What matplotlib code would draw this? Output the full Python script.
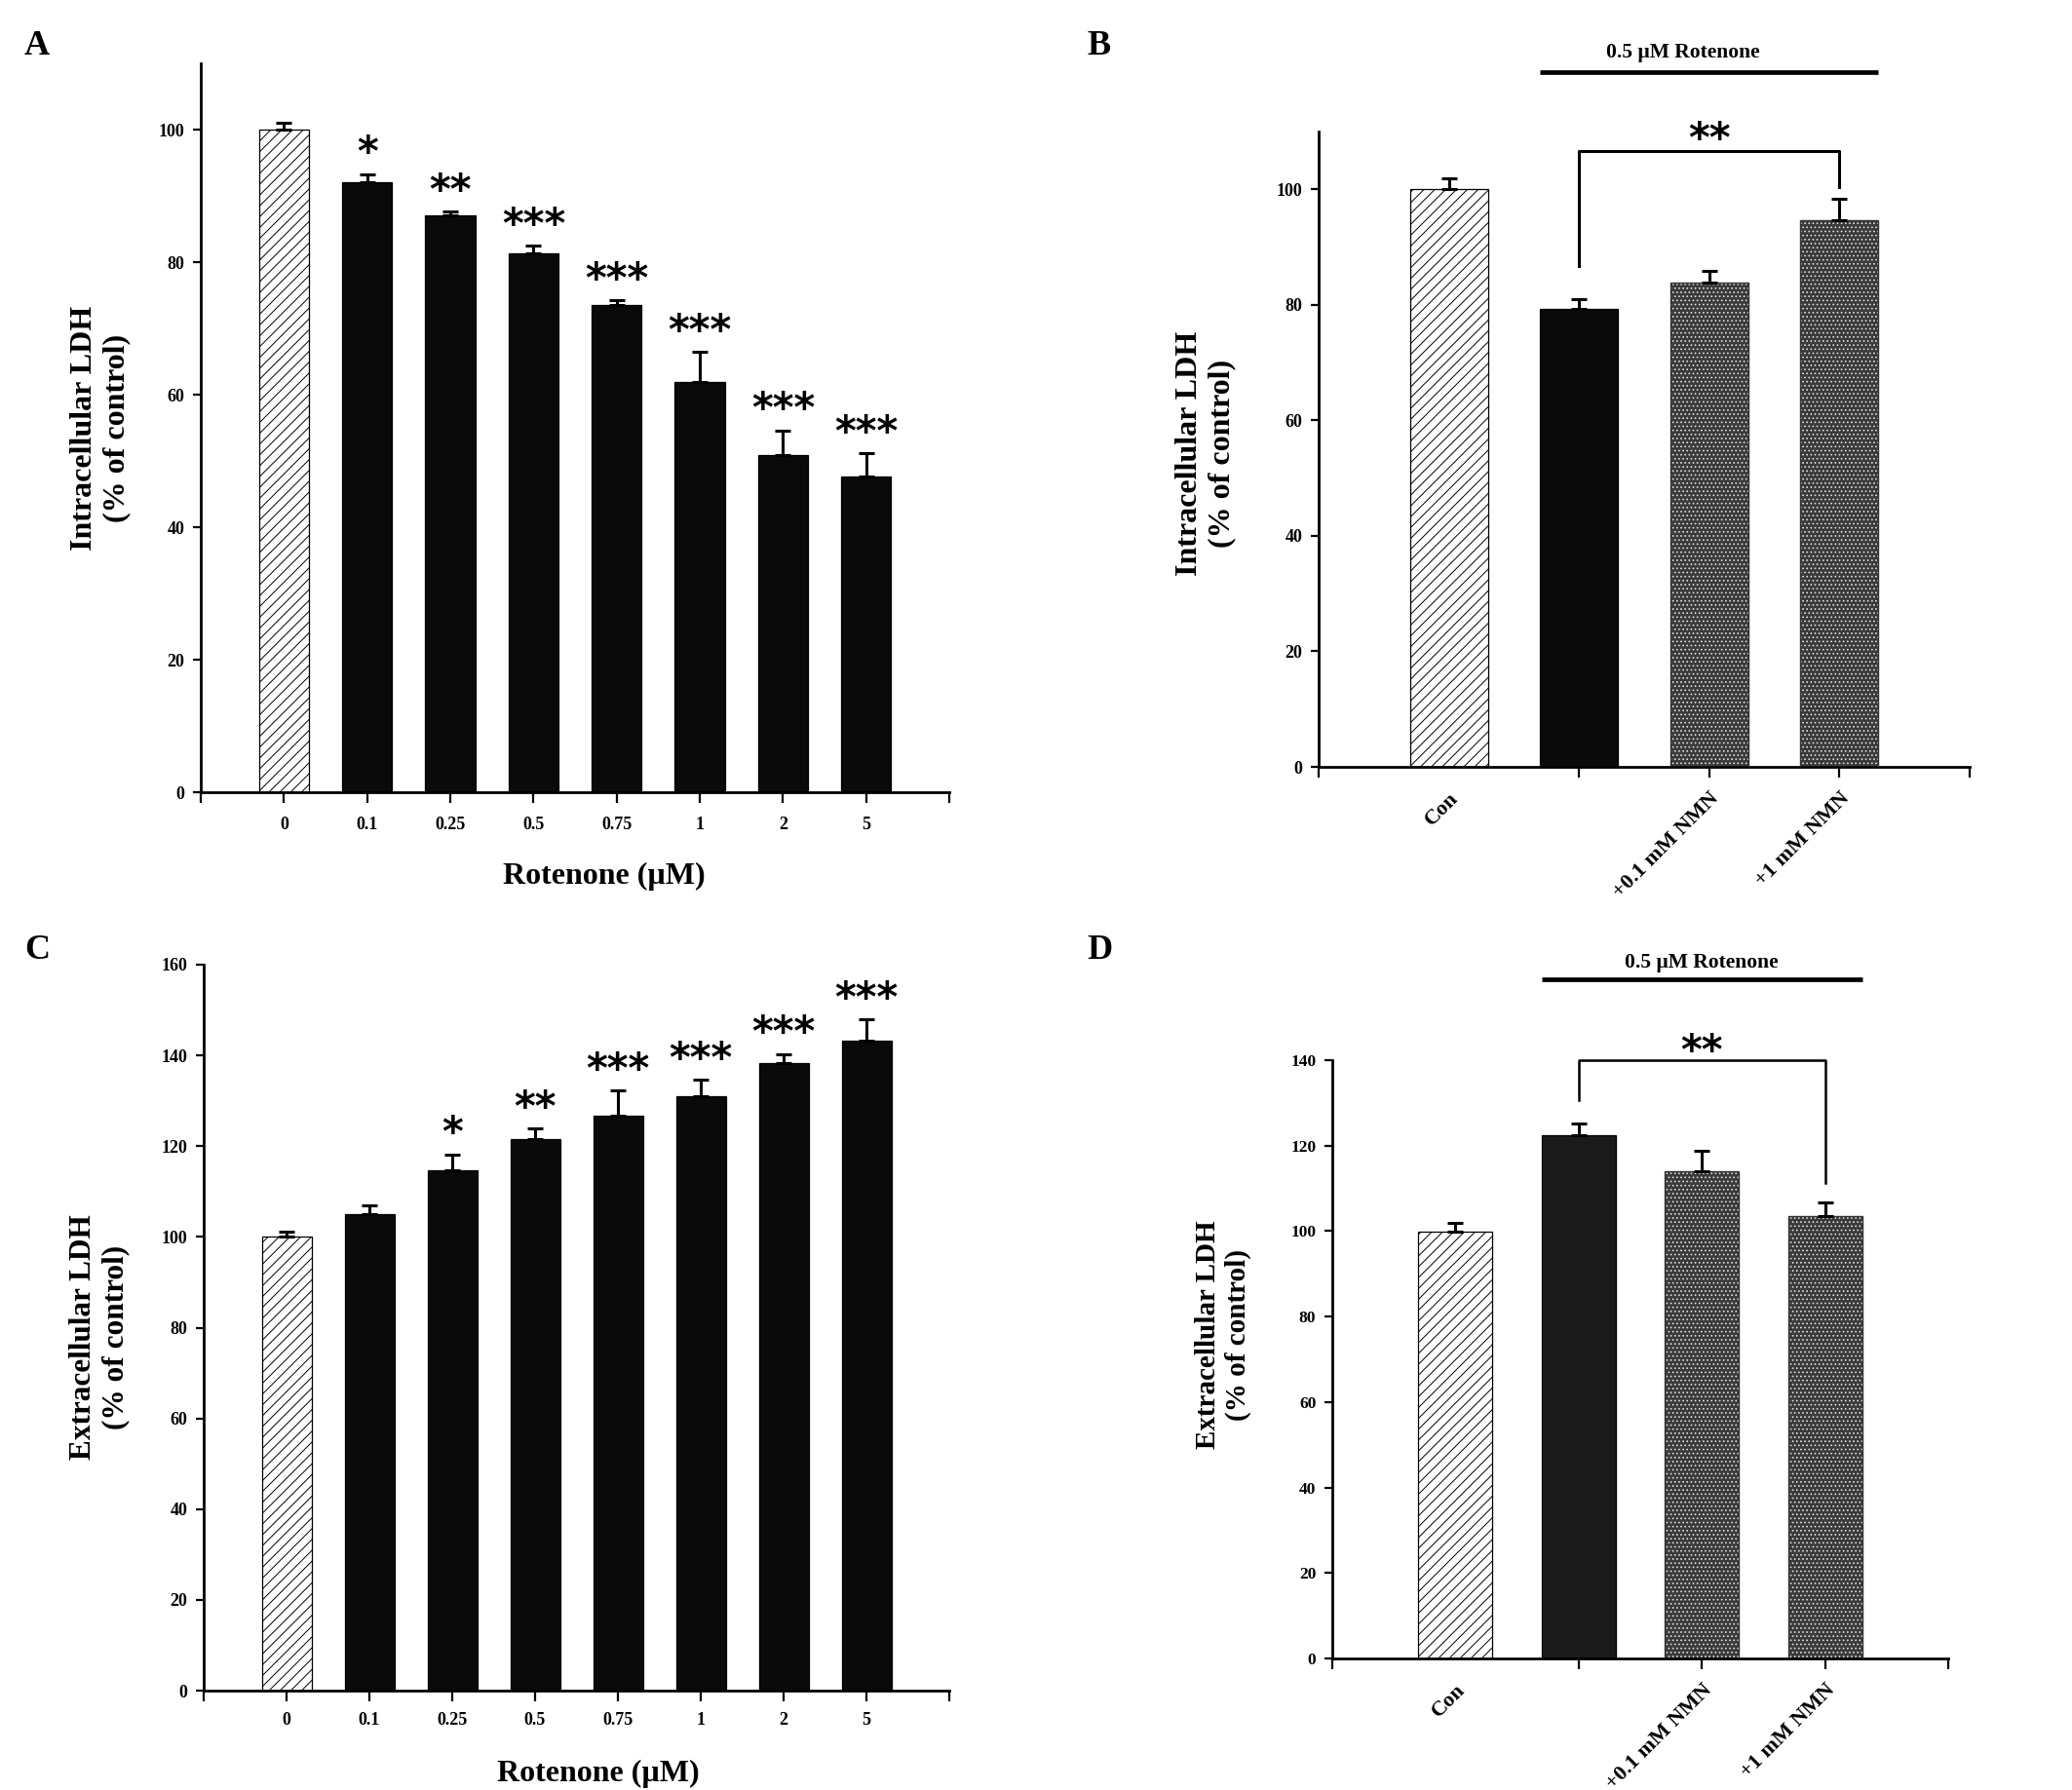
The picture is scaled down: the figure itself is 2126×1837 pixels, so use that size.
import matplotlib
matplotlib.use("Agg")
import matplotlib.pyplot as plt

plt.rcParams['font.family'] = ['Liberation Serif', 'DejaVu Serif']
plt.rcParams['hatch.linewidth'] = 0.7

# ---------------- data ----------------
dose_labels = ['0', '0.1', '0.25', '0.5', '0.75', '1', '2', '5']
A_vals = [100, 92.0, 87.0, 81.3, 73.5, 61.9, 50.9, 47.6]
A_err = [1.0, 1.3, 0.6, 1.2, 0.7, 4.5, 3.7, 3.6]
A_stars = ['', '*', '**', '***', '***', '***', '***', '***']

C_vals = [100, 105.0, 114.6, 121.5, 126.8, 131.0, 138.3, 143.3]
C_err = [1.2, 2.0, 3.6, 2.4, 5.4, 3.6, 2.0, 4.7]
C_stars = ['', '', '*', '**', '***', '***', '***', '***']

nmn_labels = ['Con', '', '+0.1 mM NMN', '+1 mM NMN']
B_vals = [100, 79.3, 83.9, 94.6]
B_err = [1.9, 1.6, 2.0, 3.7]
D_vals = [99.8, 122.5, 114.1, 103.5]
D_err = [2.2, 2.7, 4.6, 3.3]

W, H = 2126, 1837
fig = plt.figure(figsize=(W / 100, H / 100), dpi=100)

STAR_FONT = dict(fontsize=30, family='DejaVu Sans', fontweight='bold')


def px_axes(l, r, b, t):
    return fig.add_axes([l / W, 1 - b / H, (r - l) / W, (b - t) / H])


def style_axes(ax, ymax, ytop, ystep, xlim, ytick_size):
    ax.set_ylim(0, ymax)
    ax.set_xlim(*xlim)
    for s in ['top', 'right']:
        ax.spines[s].set_visible(False)
    for s in ['left', 'bottom']:
        ax.spines[s].set_linewidth(2.0)
    ax.set_yticks(range(0, ytop + 1, ystep))
    ax.tick_params(axis='y', direction='out', length=6, width=1.6,
                   labelsize=ytick_size, pad=6)
    for lab in ax.get_yticklabels():
        lab.set_fontweight('bold')


def draw_bars(ax, vals, errs, styles, black_color='#0a0a0a'):
    x = list(range(len(vals)))
    for i, (v, e, st) in enumerate(zip(vals, errs, styles)):
        if st == 'hatch':
            ax.bar(i, v, width=0.6, color='white', edgecolor='black',
                   hatch='///', linewidth=0.9, zorder=2)
        elif st == 'black':
            ax.bar(i, v, width=0.6, color=black_color, edgecolor='black',
                   linewidth=0.9, zorder=2)
        else:
            ax.bar(i, v, width=0.6, color='#3a3a3a', edgecolor='#e0e0e0',
                   hatch='....', linewidth=0, zorder=2)
            ax.bar(i, v, width=0.6, fill=False, edgecolor='#333333',
                   linewidth=1.0, zorder=3)
    ax.errorbar(x, vals, yerr=[[0] * len(vals), errs], fmt='none',
                ecolor='black', elinewidth=2.2, capsize=6, capthick=2.2,
                zorder=4)


def stars(ax, vals, errs, labels, offset=6):
    for i, (v, e, s) in enumerate(zip(vals, errs, labels)):
        if s:
            ax.annotate(s, xy=(i, v + e), xytext=(0, offset),
                        textcoords='offset points', ha='center', va='baseline',
                        clip_on=False, **STAR_FONT)


def nmn_xaxis(ax):
    ax.set_xticks([-1, 0, 1, 2, 3, 4])
    ax.set_xticklabels([''] + nmn_labels + [''], fontsize=16, fontweight='bold',
                       rotation=45, ha='right', rotation_mode='anchor')
    ax.tick_params(axis='x', direction='out', length=8, width=1.6, pad=8)
    ax.xaxis.get_major_ticks()[1].tick1line.set_visible(False)


# ---------------- Panel A ----------------
axA = px_axes(206, 974, 813, 65)
style_axes(axA, 110, 100, 20, (-1, 8), 13)
draw_bars(axA, A_vals, A_err, ['hatch'] + ['black'] * 7)
stars(axA, A_vals, A_err, A_stars)
axA.set_xticks(range(-1, 9))
axA.set_xticklabels([''] + dose_labels + [''], fontsize=13, fontweight='bold')
axA.tick_params(axis='x', direction='out', length=8, width=1.6, pad=10)
fig.text(103 / W, 1 - 439 / H, 'Intracellular LDH\n(% of control)', rotation=90,
         ha='center', va='center', fontsize=23, fontweight='bold', linespacing=1.2)
fig.text(620 / W, 1 - 899 / H, 'Rotenone (µM)', ha='center', va='center',
         fontsize=23, fontweight='bold')
fig.text(38 / W, 1 - 47 / H, 'A', ha='center', va='center', fontsize=26,
         fontweight='bold')

# ---------------- Panel B ----------------
axB = px_axes(1353, 2021, 787, 135)
style_axes(axB, 110, 100, 20, (-1, 4), 13)
draw_bars(axB, B_vals, B_err, ['hatch', 'black', 'dots', 'dots'])
nmn_xaxis(axB)
axB.plot([1, 1, 3, 3], [86.7, 106.6, 106.6, 100.3], color='black', lw=2.2,
         clip_on=False, zorder=5)
axB.text(2, 106.4, '**', ha='center', va='baseline', clip_on=False, **STAR_FONT)
axB.plot([0.7, 3.3], [120.3, 120.3], color='black', lw=3.4, clip_on=False,
         solid_capstyle='butt')
axB.text(1.8, 122.0, '0.5 µM Rotenone', ha='center', va='bottom', fontsize=15.5,
         fontweight='bold', clip_on=False)
fig.text(1237 / W, 1 - 465 / H, 'Intracellular LDH\n(% of control)', rotation=90,
         ha='center', va='center', fontsize=23, fontweight='bold', linespacing=1.2)
fig.text(1128 / W, 1 - 47 / H, 'B', ha='center', va='center', fontsize=26,
         fontweight='bold')

# ---------------- Panel C ----------------
axC = px_axes(209, 974, 1735, 990)
style_axes(axC, 160, 160, 20, (-1, 8), 13)
draw_bars(axC, C_vals, C_err, ['hatch'] + ['black'] * 7)
stars(axC, C_vals, C_err, C_stars)
axC.set_xticks(range(-1, 9))
axC.set_xticklabels([''] + dose_labels + [''], fontsize=13, fontweight='bold')
axC.tick_params(axis='x', direction='out', length=8, width=1.6, pad=8)
fig.text(102 / W, 1 - 1372 / H, 'Extracellular LDH\n(% of control)', rotation=90,
         ha='center', va='center', fontsize=22.5, fontweight='bold', linespacing=1.2)
fig.text(614 / W, 1 - 1820 / H, 'Rotenone (µM)', ha='center', va='center',
         fontsize=23, fontweight='bold')
fig.text(38 / W, 1 - 976 / H, 'C', ha='center', va='center', fontsize=26,
         fontweight='bold')

# ---------------- Panel D ----------------
axD = px_axes(1367, 1999, 1702, 1088)
style_axes(axD, 140, 140, 20, (-1, 4), 12.5)
draw_bars(axD, D_vals, D_err, ['hatch', 'black', 'dots', 'dots'],
          black_color='#1a1a1a')
nmn_xaxis(axD)
axD.plot([1, 1, 3, 3], [130.6, 140, 140, 111.3], color='black', lw=1.8,
         clip_on=False, zorder=5)
axD.text(2, 139.0, '**', ha='center', va='baseline', clip_on=False, **STAR_FONT)
axD.plot([0.7, 3.3], [159.0, 159.0], color='black', lw=3.4, clip_on=False,
         solid_capstyle='butt')
axD.text(2.0, 160.5, '0.5 µM Rotenone', ha='center', va='bottom', fontsize=15.5,
         fontweight='bold', clip_on=False)
fig.text(1255 / W, 1 - 1370 / H, 'Extracellular LDH\n(% of control)', rotation=90,
         ha='center', va='center', fontsize=21, fontweight='bold', linespacing=1.2)
fig.text(1128 / W, 1 - 976 / H, 'D', ha='center', va='center', fontsize=26,
         fontweight='bold')

fig.savefig('out.png', dpi=100, facecolor='white')
